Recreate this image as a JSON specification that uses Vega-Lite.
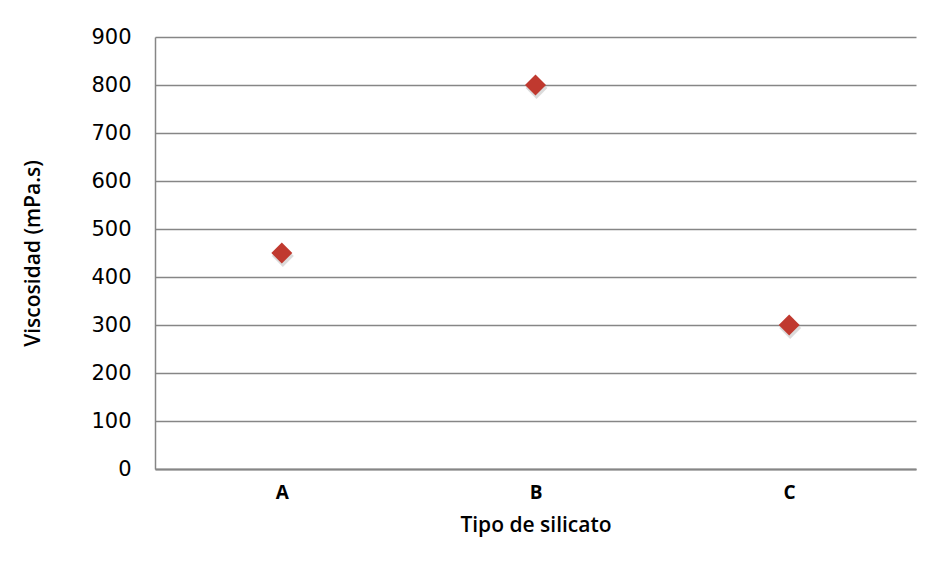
{
  "$schema": "https://vega.github.io/schema/vega-lite/v6.json",
  "width": 761,
  "height": 432,
  "autosize": {"type": "none"},
  "padding": {"left": 155, "top": 37, "right": 17, "bottom": 97},
  "background": "white",
  "data": {"values": [
    {"tipo": "A", "viscosidad": 450},
    {"tipo": "B", "viscosidad": 800},
    {"tipo": "C", "viscosidad": 300}
  ]},
  "config": {
    "view": {"stroke": null},
    "font": "DejaVu Sans"
  },
  "encoding": {
    "x": {
      "field": "tipo", "type": "nominal",
      "scale": {"paddingInner": 0, "paddingOuter": 0},
      "axis": {
        "title": "Tipo de silicato",
        "labelAngle": 0,
        "labelFont": "Open Sans",
        "labelFontSize": 19,
        "labelFontWeight": "bold",
        "labelColor": "#000000",
        "labelPadding": 14,
        "ticks": false,
        "domainColor": "#868686",
        "domainWidth": 2,
        "grid": false,
        "titleFont": "Open Sans",
        "titleFontSize": 21,
        "titleFontWeight": 600,
        "titleColor": "#000000",
        "titlePadding": 12
      }
    },
    "y": {
      "field": "viscosidad", "type": "quantitative",
      "scale": {"domain": [0, 900]},
      "axis": {
        "title": "Viscosidad (mPa.s)",
        "values": [0, 100, 200, 300, 400, 500, 600, 700, 800, 900],
        "labelFont": "DejaVu Sans",
        "labelFontSize": 21,
        "labelColor": "#000000",
        "labelPadding": 24,
        "ticks": false,
        "domainColor": "#868686",
        "domainWidth": 1.5,
        "gridColor": "#868686",
        "gridWidth": 1.5,
        "titleFont": "Open Sans",
        "titleFontSize": 21,
        "titleFontWeight": 600,
        "titleColor": "#000000",
        "titlePadding": 47
      }
    }
  },
  "layer": [
    {
      "mark": {"type": "point", "shape": "diamond", "filled": true, "size": 480, "color": "#999999", "opacity": 0.35, "yOffset": 3, "xOffset": 1},
      "encoding": {}
    },
    {
      "mark": {"type": "point", "shape": "diamond", "filled": true, "size": 440, "color": "#C0392F", "opacity": 1},
      "encoding": {}
    }
  ]
}
